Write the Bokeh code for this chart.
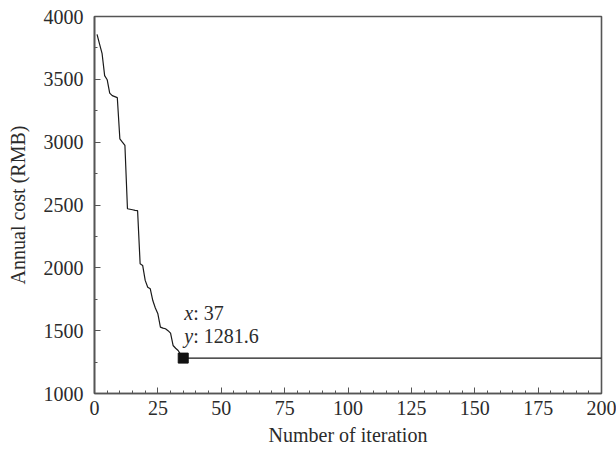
from bokeh.plotting import figure
from bokeh.models import Range1d, SingleIntervalTicker
from bokeh.embed import file_html
from bokeh.resources import INLINE
from bokeh.core.properties import value

# Data
iteration = [1, 2, 3, 4, 5, 6, 7, 8, 9, 10, 11, 12, 13, 14, 15, 16, 17, 18,
             19, 20, 21, 22, 23, 24, 25, 26, 27, 28, 29, 30, 31, 32, 33, 34,
             35, 200]
cost = [3858, 3780, 3704, 3530, 3497, 3390, 3370, 3362, 3354, 3027, 3000,
        2974, 2470, 2466, 2462, 2457, 2455, 2032, 2019, 1900, 1846, 1833,
        1740, 1680, 1634, 1528, 1520, 1515, 1500, 1480, 1382, 1360, 1342,
        1310, 1281.6, 1281.6]
best_iter = [35]
best_cost = [1281.6]
tip_x_text = ": 37"
tip_y_text = ": 1281.6"

FONT = value("Liberation Serif")
TXT = "#2b2b2b"
FS = "20px"

p = figure(frame_width=507, frame_height=377, output_backend="svg",
           toolbar_location=None, x_range=Range1d(0, 200),
           y_range=Range1d(1000, 4000),
           min_border_left=94, min_border_top=16, min_border_right=15,
           min_border_bottom=62)
p.background_fill_color = "white"
p.border_fill_color = "white"
p.outline_line_color = "#555555"
p.outline_line_width = 1.6
p.xgrid.visible = False
p.ygrid.visible = False

p.xaxis.ticker = SingleIntervalTicker(interval=25, num_minor_ticks=5)
p.yaxis.ticker = SingleIntervalTicker(interval=500, num_minor_ticks=2)

for ax in (p.xaxis[0], p.yaxis[0]):
    ax.axis_line_color = "#555555"
    ax.axis_line_width = 1.6
    ax.major_tick_line_color = "#555555"
    ax.minor_tick_line_color = "#555555"
    ax.major_tick_in = 6
    ax.major_tick_out = 0
    ax.minor_tick_in = 3
    ax.minor_tick_out = 0
    ax.major_label_text_font = "Liberation Serif"
    ax.major_label_text_font_size = FS
    ax.major_label_text_color = TXT
    ax.axis_label_text_font = "Liberation Serif"
    ax.axis_label_text_font_size = FS
    ax.axis_label_text_font_style = "normal"
    ax.axis_label_text_color = TXT

p.xaxis.axis_label = "Number of iteration"
p.yaxis.axis_label = "Annual cost (RMB)"
p.xaxis.major_label_standoff = 7
p.yaxis.major_label_standoff = 11
p.xaxis.axis_label_standoff = 6
p.yaxis.axis_label_standoff = 12

p.line(iteration, cost, line_color="#1a1a1a", line_width=1.2)
p.scatter(best_iter, best_cost, marker="square", size=10, color="#111111")

p.text(best_iter, best_cost, text=["x"], x_offset=1, y_offset=-45,
       text_font=FONT, text_font_style="italic", text_font_size=FS,
       text_color=TXT, text_align="left", text_baseline="middle")
p.text(best_iter, best_cost, text=[tip_x_text], x_offset=10, y_offset=-45,
       text_font=FONT, text_font_size=FS,
       text_color=TXT, text_align="left", text_baseline="middle")
p.text(best_iter, best_cost, text=["y"], x_offset=1, y_offset=-22,
       text_font=FONT, text_font_style="italic", text_font_size=FS,
       text_color=TXT, text_align="left", text_baseline="middle")
p.text(best_iter, best_cost, text=[tip_y_text], x_offset=10, y_offset=-22,
       text_font=FONT, text_font_size=FS,
       text_color=TXT, text_align="left", text_baseline="middle")

open("out.html", "w").write(file_html(p, INLINE))
